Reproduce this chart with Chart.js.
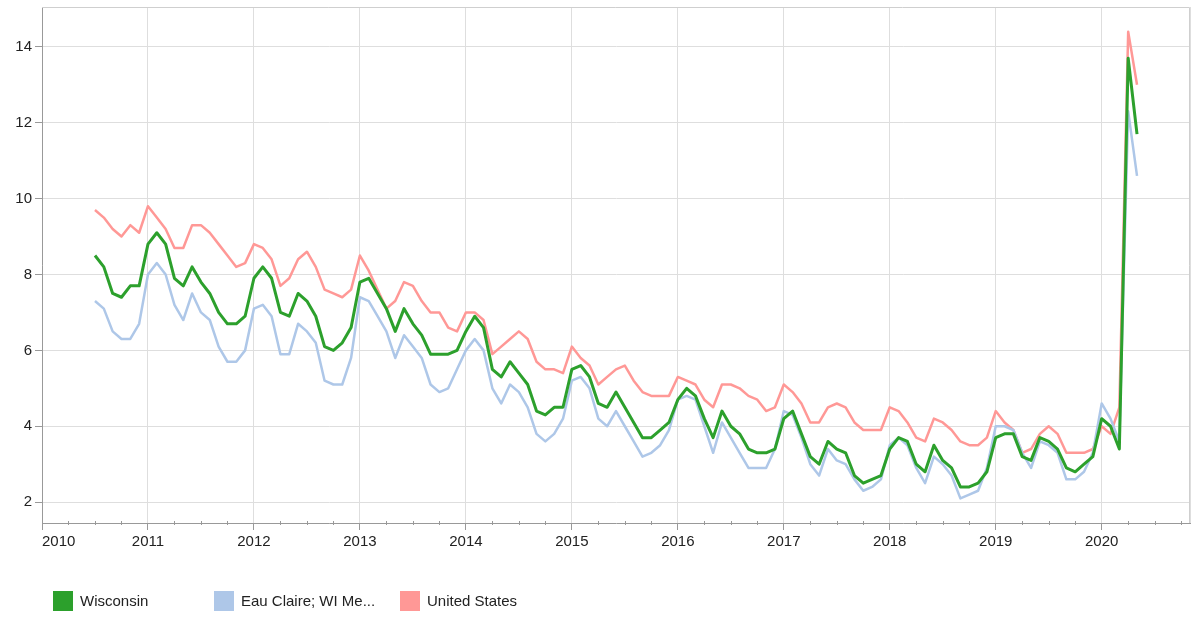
<!DOCTYPE html>
<html>
<head>
<meta charset="utf-8">
<script src="https://cdn.jsdelivr.net/npm/chart.js@4.4.0/dist/chart.umd.min.js"></script>
<style>
  html, body { margin: 0; padding: 0; background: #fff; }
  #wrap { position: relative; width: 1200px; height: 637px; font-family: "Liberation Sans", Arial, sans-serif; }
  canvas { position: absolute; left: 0; top: 0; }
  .lg-box { position: absolute; width: 20px; height: 20px; top: 591px; }
  .lg-txt { position: absolute; top: 591px; height: 20px; line-height: 20px; font-size: 15px; color: #222; white-space: nowrap; }
</style>
</head>
<body>
<div id="wrap">
  <canvas id="c" width="1200" height="637"></canvas>
  <div class="lg-box" style="left:53px;background:#2ca02c"></div>
  <div class="lg-txt" style="left:80px">Wisconsin</div>
  <div class="lg-box" style="left:214px;background:#aec7e8"></div>
  <div class="lg-txt" style="left:241px">Eau Claire; WI Me...</div>
  <div class="lg-box" style="left:400px;background:#ff9896"></div>
  <div class="lg-txt" style="left:427px">United States</div>
</div>
<script>
// Monthly series, first month July 2010, last month May 2020
const firstYear = 2010;
const firstMonth = 7; // July
const seriesNames = ['Wisconsin', 'Eau Claire; WI Me...', 'United States'];

const wisconsin = [
  8.5, 8.2, 7.5, 7.4, 7.7, 7.7,
  8.8, 9.1, 8.8, 7.9, 7.7, 8.2, 7.8, 7.5, 7.0, 6.7, 6.7, 6.9,
  7.9, 8.2, 7.9, 7.0, 6.9, 7.5, 7.3, 6.9, 6.1, 6.0, 6.2, 6.6,
  7.8, 7.9, 7.5, 7.1, 6.5, 7.1, 6.7, 6.4, 5.9, 5.9, 5.9, 6.0,
  6.5, 6.9, 6.6, 5.5, 5.3, 5.7, 5.4, 5.1, 4.4, 4.3, 4.5, 4.5,
  5.5, 5.6, 5.3, 4.6, 4.5, 4.9, 4.5, 4.1, 3.7, 3.7, 3.9, 4.1,
  4.7, 5.0, 4.8, 4.2, 3.7, 4.4, 4.0, 3.8, 3.4, 3.3, 3.3, 3.4,
  4.2, 4.4, 3.8, 3.2, 3.0, 3.6, 3.4, 3.3, 2.7, 2.5, 2.6, 2.7,
  3.4, 3.7, 3.6, 3.0, 2.8, 3.5, 3.1, 2.9, 2.4, 2.4, 2.5, 2.8,
  3.7, 3.8, 3.8, 3.2, 3.1, 3.7, 3.6, 3.4, 2.9, 2.8, 3.0, 3.2,
  4.2, 4.0, 3.4, 13.7, 11.7
];
const eauClaire = [
  7.3, 7.1, 6.5, 6.3, 6.3, 6.7,
  8.0, 8.3, 8.0, 7.2, 6.8, 7.5, 7.0, 6.8, 6.1, 5.7, 5.7, 6.0,
  7.1, 7.2, 6.9, 5.9, 5.9, 6.7, 6.5, 6.2, 5.2, 5.1, 5.1, 5.8,
  7.4, 7.3, 6.9, 6.5, 5.8, 6.4, 6.1, 5.8, 5.1, 4.9, 5.0, 5.5,
  6.0, 6.3, 6.0, 5.0, 4.6, 5.1, 4.9, 4.5, 3.8, 3.6, 3.8, 4.2,
  5.2, 5.3, 5.0, 4.2, 4.0, 4.4, 4.0, 3.6, 3.2, 3.3, 3.5, 3.9,
  4.7, 4.8, 4.7, 4.0, 3.3, 4.1, 3.7, 3.3, 2.9, 2.9, 2.9, 3.4,
  4.4, 4.3, 3.7, 3.0, 2.7, 3.4, 3.1, 3.0, 2.6, 2.3, 2.4, 2.6,
  3.5, 3.7, 3.5, 2.9, 2.5, 3.2, 3.0, 2.7, 2.1, 2.2, 2.3, 2.9,
  4.0, 4.0, 3.9, 3.3, 2.9, 3.6, 3.5, 3.3, 2.6, 2.6, 2.8, 3.3,
  4.6, 4.2, 3.6, 12.3, 10.6
];
const unitedStates = [
  9.7, 9.5, 9.2, 9.0, 9.3, 9.1,
  9.8, 9.5, 9.2, 8.7, 8.7, 9.3, 9.3, 9.1, 8.8, 8.5, 8.2, 8.3,
  8.8, 8.7, 8.4, 7.7, 7.9, 8.4, 8.6, 8.2, 7.6, 7.5, 7.4, 7.6,
  8.5, 8.1, 7.6, 7.1, 7.3, 7.8, 7.7, 7.3, 7.0, 7.0, 6.6, 6.5,
  7.0, 7.0, 6.8, 5.9, 6.1, 6.3, 6.5, 6.3, 5.7, 5.5, 5.5, 5.4,
  6.1, 5.8, 5.6, 5.1, 5.3, 5.5, 5.6, 5.2, 4.9, 4.8, 4.8, 4.8,
  5.3, 5.2, 5.1, 4.7, 4.5, 5.1, 5.1, 5.0, 4.8, 4.7, 4.4, 4.5,
  5.1, 4.9, 4.6, 4.1, 4.1, 4.5, 4.6, 4.5, 4.1, 3.9, 3.9, 3.9,
  4.5, 4.4, 4.1, 3.7, 3.6, 4.2, 4.1, 3.9, 3.6, 3.5, 3.5, 3.7,
  4.4, 4.1, 3.9, 3.3, 3.4, 3.8, 4.0, 3.8, 3.3, 3.3, 3.3, 3.4,
  4.0, 3.8, 4.5, 14.4, 13.0
];

const yearTicks = [2010, 2011, 2012, 2013, 2014, 2015, 2016, 2017, 2018, 2019, 2020];
const yTicks = [2, 4, 6, 8, 10, 12, 14];
const X_MIN = 2010, X_MAX = 2020 + 10 / 12;
const Y_MIN = 1.45, Y_MAX = 15.05;

function toPoints(arr) {
  return arr.map((v, i) => ({ x: firstYear + (firstMonth - 1 + i) / 12, y: v }));
}

const frame = {
  id: 'frame',
  beforeDatasetsDraw(chart) {
    const { ctx, chartArea: a } = chart;
    ctx.save();
    ctx.strokeStyle = '#cfcfcf';
    ctx.lineWidth = 1;
    ctx.beginPath();
    ctx.moveTo(a.left, a.top + 0.5);
    ctx.lineTo(a.right - 0.5, a.top + 0.5);
    ctx.lineTo(a.right - 0.5, a.bottom);
    ctx.stroke();
    // minor quarterly ticks on x axis
    const xs = chart.scales.x;
    ctx.strokeStyle = '#999';
    ctx.beginPath();
    for (let y = 2010; y <= 2020; y++) {
      for (let q = 1; q < 4; q++) {
        const v = y + q / 4;
        if (v > X_MAX) continue;
        const px = Math.round(xs.getPixelForValue(v)) + 0.5;
        ctx.moveTo(px, a.bottom - 2);
        ctx.lineTo(px, a.bottom + 2);
      }
    }
    ctx.stroke();
    ctx.restore();
  }
};

new Chart(document.getElementById('c'), {
  type: 'line',
  data: {
    datasets: [
      { label: seriesNames[0], data: toPoints(wisconsin), borderColor: '#2ca02c', borderWidth: 3 },
      { label: seriesNames[1], data: toPoints(eauClaire), borderColor: '#aec7e8', borderWidth: 2.5 },
      { label: seriesNames[2], data: toPoints(unitedStates), borderColor: '#ff9896', borderWidth: 2.5 }
    ]
  },
  options: {
    responsive: false,
    animation: false,
    devicePixelRatio: 1,
    layout: { padding: { top: 7, right: 10, left: 0, bottom: 0 } },
    elements: { point: { radius: 0 }, line: { tension: 0, fill: false, borderJoinStyle: 'round' } },
    plugins: { legend: { display: false }, tooltip: { enabled: false } },
    scales: {
      x: {
        type: 'linear',
        min: X_MIN,
        max: X_MAX,
        afterBuildTicks: s => { s.ticks = yearTicks.map(v => ({ value: v })).concat([{ value: X_MAX }]); },
        afterFit: s => { s.height = 114; s.paddingLeft = 0; s.paddingRight = 0; },
        ticks: {
          align: 'inner',
          autoSkip: false,
          maxRotation: 0,
          padding: 3,
          color: '#222',
          font: { family: '"Liberation Sans", Arial, sans-serif', size: 15 },
          callback: v => yearTicks.includes(v) ? String(v) : ''
        },
        grid: {
          color: '#dedede',
          tickLength: 7,
          tickColor: ctx => (ctx.tick && yearTicks.includes(ctx.tick.value)) ? '#999' : 'rgba(0,0,0,0)'
        },
        border: { color: '#999', width: 1 }
      },
      y: {
        min: Y_MIN,
        max: Y_MAX,
        afterBuildTicks: s => { s.ticks = yTicks.map(v => ({ value: v })); },
        afterFit: s => { s.width = 42; s.paddingTop = 0; s.paddingBottom = 0; },
        ticks: {
          padding: 3,
          color: '#222',
          font: { family: '"Liberation Sans", Arial, sans-serif', size: 15 },
          callback: v => String(v)
        },
        grid: { color: '#dedede', tickLength: 7, tickColor: '#999' },
        border: { color: '#999', width: 1 }
      }
    }
  },
  plugins: [frame]
});
</script>
</body>
</html>
